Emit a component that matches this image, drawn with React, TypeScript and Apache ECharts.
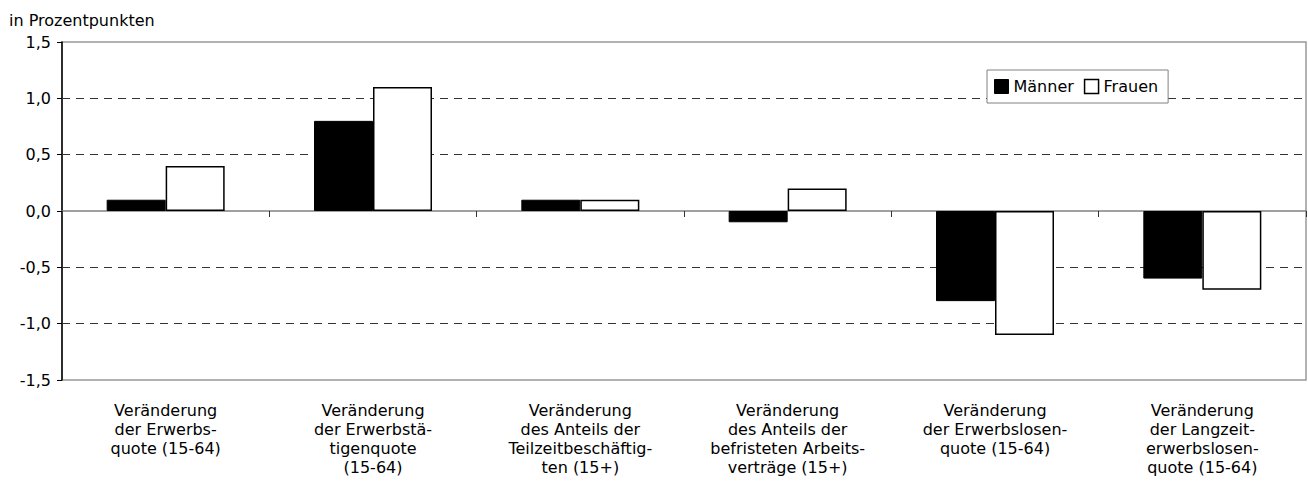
import React, { useEffect, useRef } from "react";
import * as echarts from "echarts";

const categories: string[] = [
  "Veränderung\nder Erwerbs-\nquote (15-64)",
  "Veränderung\nder Erwerbstä-\ntigenquote\n(15-64)",
  "Veränderung\ndes Anteils der\nTeilzeitbeschäftig-\nten (15+)",
  "Veränderung\ndes Anteils der\nbefristeten Arbeits-\nverträge (15+)",
  "Veränderung\nder Erwerbslosen-\nquote (15-64)",
  "Veränderung\nder Langzeit-\nerwerbslosen-\nquote (15-64)",
];
const maenner: number[] = [0.1, 0.8, 0.1, -0.1, -0.8, -0.6];
const frauen: number[] = [0.4, 1.1, 0.1, 0.2, -1.1, -0.7];
const gridLineValues: number[] = [1.0, 0.5, -0.5, -1.0];
const yTitle = "in Prozentpunkten";
const seriesNames = ["Männer", "Frauen"];

const FONT = "DejaVu Sans";

export default function App() {
  const ref = useRef<HTMLDivElement>(null);
  useEffect(() => {
    if (!ref.current) return;
    const chart = echarts.init(ref.current, undefined, { renderer: "svg" });
    chart.setOption({
      animation: false,
      backgroundColor: "#ffffff",
      textStyle: { fontFamily: FONT },
      title: {
        text: yTitle,
        left: 9,
        top: 12,
        padding: 0,
        textStyle: { fontFamily: FONT, fontSize: 16, fontWeight: "normal", color: "#000", lineHeight: 16 },
      },
      legend: {
        left: 987,
        top: 70,
        padding: [8.5, 10, 8.5, 7],
        itemGap: 10,
        itemWidth: 14,
        itemHeight: 14,
        backgroundColor: "#ffffff",
        borderColor: "#808080",
        borderWidth: 1,
        borderRadius: 0,
        z: 10,
        textStyle: { fontFamily: FONT, fontSize: 16, color: "#000", lineHeight: 16 },
        data: [
          { name: seriesNames[0], icon: "rect", itemStyle: { color: "#000", borderColor: "#000", borderWidth: 1 } },
          { name: seriesNames[1], icon: "rect", itemStyle: { color: "#fff", borderColor: "#000", borderWidth: 1.5 } },
        ],
      },
      grid: {
        left: 62,
        right: 2,
        top: 42,
        bottom: 108,
        show: true,
        borderColor: "#999999",
        borderWidth: 1.5,
        backgroundColor: "transparent",
      },
      xAxis: [
        {
          type: "category",
          data: categories,
          position: "bottom",
          axisLine: { show: false, onZero: false },
          axisTick: { show: false },
          splitLine: { show: false },
          axisLabel: {
            interval: 0,
            margin: 21,
            color: "#000",
            fontFamily: FONT,
            fontSize: 16,
            lineHeight: 19,
            align: "center",
          },
        },
        {
          type: "category",
          data: categories,
          position: "top",
          axisLine: { show: true, onZero: true, lineStyle: { color: "#808080", width: 1.5 } },
          axisTick: { show: true, inside: true, length: 6, alignWithLabel: false, lineStyle: { color: "#333", width: 1 } },
          axisLabel: { show: false },
          splitLine: { show: false },
        },
      ],
      yAxis: {
        type: "value",
        min: -1.5,
        max: 1.5,
        interval: 0.5,
        axisLine: { show: true, lineStyle: { color: "#000", width: 1.5 } },
        axisTick: { show: true, length: 5, lineStyle: { color: "#000", width: 1 } },
        splitLine: { show: false },
        axisLabel: {
          margin: 11,
          color: "#000",
          fontFamily: FONT,
          fontSize: 16,
          formatter: (v: number) => v.toFixed(1).replace(".", ","),
        },
      },
      series: [
        {
          name: seriesNames[0],
          type: "bar",
          xAxisIndex: 0,
          data: maenner,
          barWidth: 59,
          barGap: "0%",
          z: 3,
          itemStyle: { color: "#000", borderColor: "#000", borderWidth: 1 },
          markLine: {
            silent: true,
            symbol: ["none", "none"],
            z: 1,
            label: { show: false },
            lineStyle: { color: "#333", width: 1, type: [8, 6] },
            data: gridLineValues.map((v) => ({ yAxis: v })),
          },
        },
        {
          name: seriesNames[1],
          type: "bar",
          xAxisIndex: 0,
          data: frauen,
          barWidth: 59,
          barGap: "0%",
          z: 3,
          itemStyle: { color: "#fff", borderColor: "#000", borderWidth: 1.5 },
        },
      ],
    });
    return () => chart.dispose();
  }, []);
  return (
    <div
      ref={ref}
      style={{ position: "absolute", left: 0, top: 0, width: 1308, height: 488 }}
    />
  );
}
